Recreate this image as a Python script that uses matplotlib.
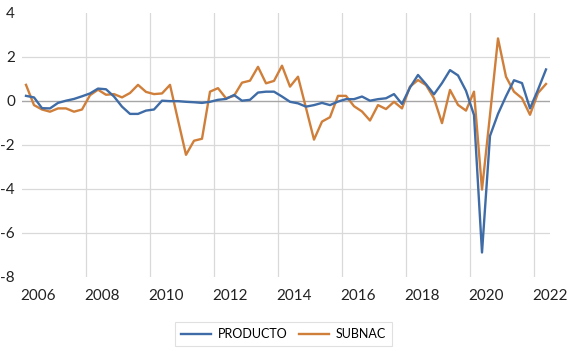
import matplotlib
matplotlib.use("Agg")
import matplotlib.pyplot as plt
import numpy as np

# Quarterly data 2006Q1 - 2022Q2
producto = [0.22, 0.15, -0.34, -0.35, -0.10, 0.00, 0.08, 0.20,
            0.33, 0.55, 0.52, 0.19, -0.27, -0.60, -0.60, -0.45,
            -0.40, 0.00, -0.02, -0.02, -0.05, -0.07, -0.10, -0.05,
            0.04, 0.08, 0.26, 0.00, 0.04, 0.37, 0.41, 0.41,
            0.19, -0.05, -0.12, -0.27, -0.20, -0.10, -0.20, -0.04,
            0.07, 0.07, 0.19, 0.00, 0.07, 0.11, 0.30, -0.15,
            0.60, 1.17, 0.75, 0.29, 0.80, 1.39, 1.15, 0.45,
            -0.65, -6.90, -1.60, -0.60, 0.20, 0.93, 0.80, -0.35,
            0.50, 1.42]
subnac = [0.72, -0.20, -0.40, -0.50, -0.35, -0.35, -0.50, -0.40,
          0.25, 0.50, 0.27, 0.30, 0.15, 0.35, 0.72, 0.40,
          0.30, 0.33, 0.72, -0.88, -2.46, -1.82, -1.73, 0.41,
          0.57, 0.11, 0.22, 0.82, 0.91, 1.54, 0.79, 0.90,
          1.59, 0.64, 1.09, -0.33, -1.77, -0.95, -0.75, 0.22,
          0.22, -0.25, -0.49, -0.90, -0.20, -0.38, -0.05, -0.35,
          0.64, 0.94, 0.71, 0.11, -1.02, 0.49, -0.19, -0.45,
          0.41, -4.04, -0.65, 2.83, 1.09, 0.41, 0.11, -0.64,
          0.35, 0.76]
year_labels = ["2006", "2008", "2010", "2012", "2014", "2016", "2018", "2020", "2022"]
y_ticks = [4, 2, 0, -2, -4, -6, -8]

plt.rcParams['font.family'] = ['Lato', 'DejaVu Sans']

fig = plt.figure(figsize=(5.68, 3.49), dpi=100)
ax = fig.add_axes([22/568, 1-276.7/349, 528/568, (276.7-12.7)/349])

x = np.arange(len(producto))
ax.set_xlim(-0.5, len(producto) - 0.5)
ax.set_ylim(-8, 4)

# gridlines
for k in range(1, len(year_labels)):
    ax.axvline(-0.5 + 8*k, color='#D9D9D9', lw=0.9, zorder=0)
for yv in [2, -2, -4, -6]:
    ax.axhline(yv, color='#D9D9D9', lw=0.9, zorder=0)
ax.axhline(0, color='#A6A6A6', lw=1.0, zorder=1)

ax.plot(x, producto, color='#3F6CA6', lw=1.7, label='PRODUCTO', zorder=3)
ax.plot(x, subnac, color='#D07F3A', lw=1.7, label='SUBNAC', zorder=2)

for s in ax.spines.values():
    s.set_visible(False)

ax.set_yticks(y_ticks)
ax.set_yticklabels([str(v) for v in y_ticks])
ax.set_xticks([1.5 + 8*k for k in range(len(year_labels))])
ax.set_xticklabels(year_labels)
ax.tick_params(axis='both', length=0, labelsize=11, colors='#222222')
ax.tick_params(axis='y', pad=5)
ax.tick_params(axis='x', pad=9)

leg = fig.legend(loc='center', bbox_to_anchor=(283.5/568, 1-334/349), ncol=2,
                 frameon=True, fontsize=9, handlelength=2.4, columnspacing=0.9,
                 handletextpad=0.55, borderpad=0.5, fancybox=False, edgecolor='#D9D9D9')
leg.get_frame().set_linewidth(0.8)

fig.savefig("out.png", dpi=100)
